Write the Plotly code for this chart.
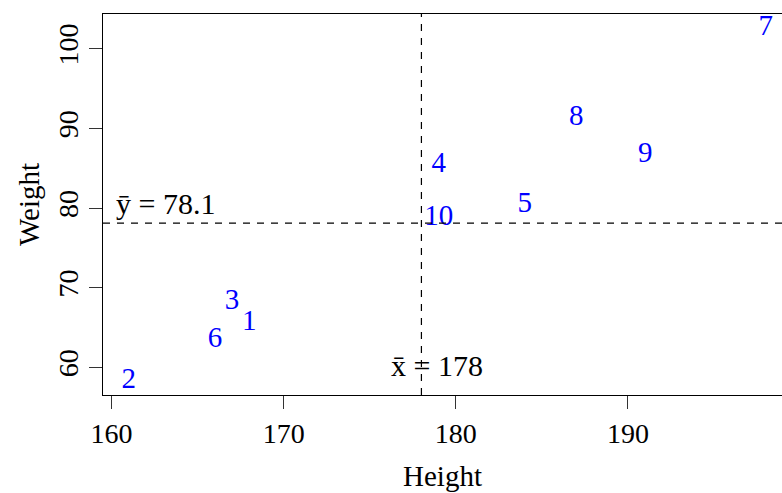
import numpy as np
import plotly.graph_objects as go

# Height / weight of 10 people, labelled by id
ids = ["1", "2", "3", "4", "5", "6", "7", "8", "9", "10"]
height = [168, 161, 167, 179, 184, 166, 198, 187, 191, 179]
weight = [65.6, 58.3, 68.2, 85.5, 80.4, 63.5, 102.6, 91.4, 86.7, 78.8]

x_ticks = [160, 170, 180, 190]
y_ticks = [60, 70, 80, 90, 100]

xbar = np.mean(height)
ybar = np.mean(weight)

FONT = "Liberation Serif"

fig = go.Figure()

fig.add_trace(go.Scatter(
    x=height, y=weight, text=ids, mode="text",
    textposition="middle center",
    textfont=dict(family=FONT, size=29, color="#0000FF"),
    cliponaxis=False,
    hoverinfo="skip", showlegend=False
))

# mean lines
fig.add_shape(type="line", xref="x", yref="paper", x0=xbar, x1=xbar, y0=0, y1=1,
              line=dict(color="black", width=1.2, dash="7px,7px"))
fig.add_shape(type="line", xref="paper", yref="y", x0=0, x1=1, y0=ybar, y1=ybar,
              line=dict(color="black", width=1.2, dash="7px,7px"))

fig.add_annotation(x=160.15, y=80.6, xref="x", yref="y",
                   text="\u0233 = %.1f" % ybar, showarrow=False,
                   xanchor="left", yanchor="middle",
                   font=dict(family=FONT, size=30, color="black"))
fig.add_annotation(x=178.88, y=60.25, xref="x", yref="y",
                   text="x\u0304 = %d" % round(xbar), showarrow=False,
                   xanchor="center", yanchor="middle",
                   font=dict(family=FONT, size=30, color="black"))

fig.update_xaxes(
    range=[159.5, 198.95], tickvals=x_ticks, ticks="outside", ticklen=13,
    tickcolor="#333", showline=True, linecolor="black", linewidth=1, mirror=True,
    showgrid=False, zeroline=False, automargin=False,
    tickfont=dict(family=FONT, size=28, color="black"),
    title=dict(text="Height", font=dict(family=FONT, size=29, color="black"), standoff=18)
)
fig.update_yaxes(
    range=[56.53, 104.37], tickvals=y_ticks, ticks="outside", ticklen=13,
    tickcolor="#333", showline=True, linecolor="black", linewidth=1,
    showgrid=False, zeroline=False, tickangle=-90, automargin=False,
    tickfont=dict(family=FONT, size=28, color="black"),
    title=dict(text="Weight", font=dict(family=FONT, size=29, color="black"), standoff=4)
)

fig.update_layout(
    width=782, height=493,
    margin=dict(l=103, r=0, t=14, b=98, autoexpand=False),
    plot_bgcolor="white", paper_bgcolor="white",
    font=dict(family=FONT)
)

# page body has a default 8px margin; drop it so the figure sits at the corner
fig.write_html("out.html", config={"displayModeBar": False},
               post_script="document.body.style.margin='0';")
